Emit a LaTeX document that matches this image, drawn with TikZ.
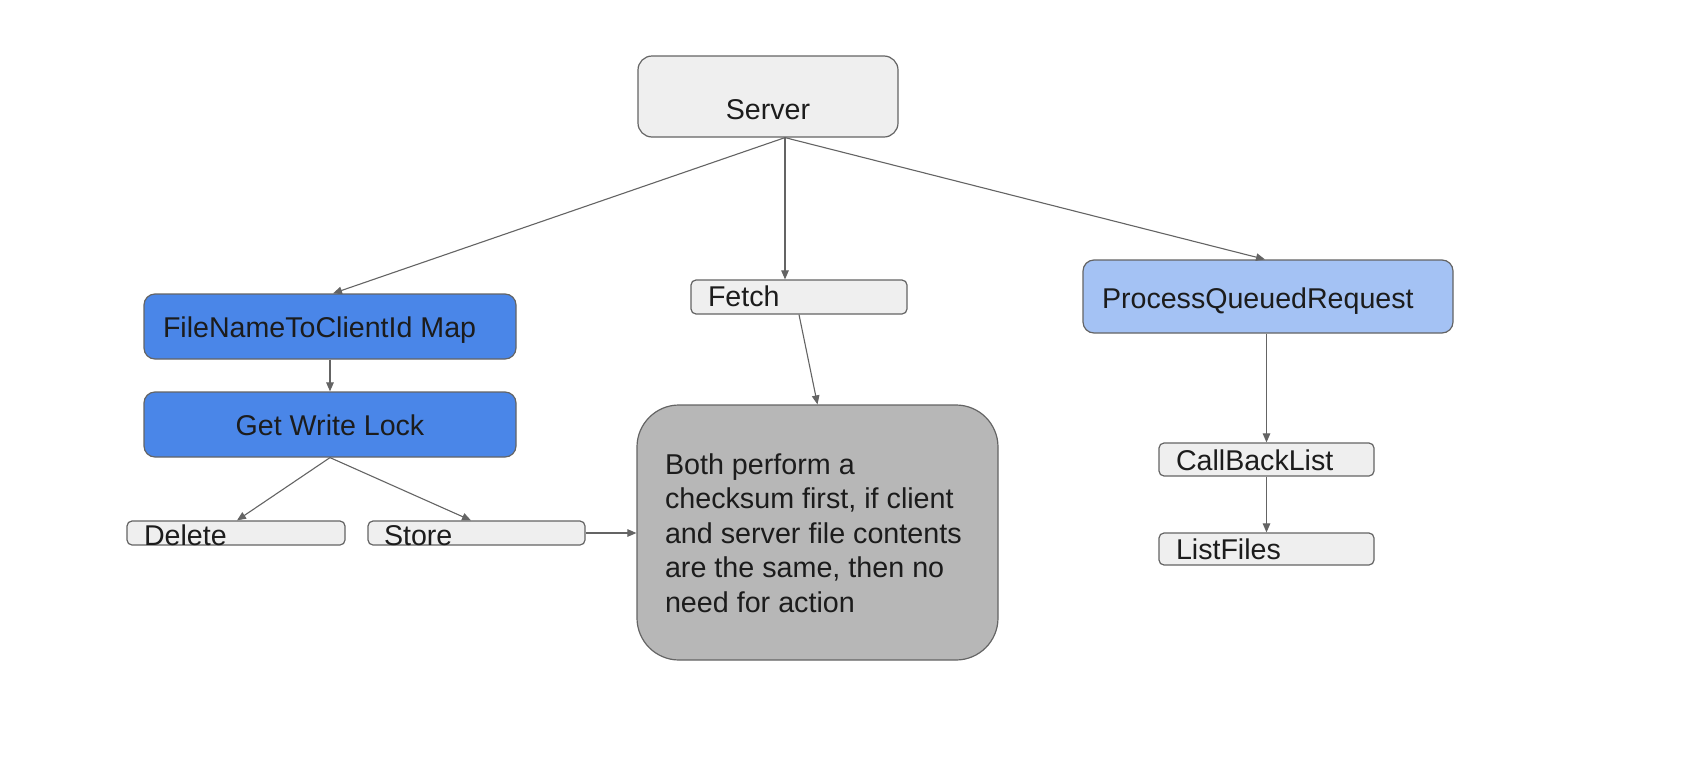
\documentclass[tikz,border=0pt]{standalone}
\usepackage{fontspec}
\setmainfont{Liberation Sans}
\usetikzlibrary{arrows.meta}
\definecolor{boxgray}{HTML}{EFEFEF}
\definecolor{edgegray}{HTML}{646464}
\definecolor{blueA}{HTML}{4A86E8}
\definecolor{blueB}{HTML}{A4C2F4}
\definecolor{bigfill}{HTML}{B7B7B7}
\definecolor{txt}{HTML}{1C1C1C}
\newcommand\boxlbl[4]{\raisebox{#2pt}{\makebox[#1pt][l]{\hspace*{#3pt}#4}}}
\newcommand\boxctr[3]{\raisebox{#2pt}{\makebox[#1pt][c]{#3}}}
\begin{document}
\begin{tikzpicture}[x=1pt,y=-1pt,
  box/.style={draw=edgegray, line width=1.2pt, inner sep=0pt, text height=0pt, text depth=0pt, text=txt, font=\fontsize{28.6}{34}\selectfont},
  graybox/.style={box, fill=boxgray},
  smallbox/.style={graybox, rounded corners=5pt},
  darkblue/.style={box, fill=blueA, rounded corners=11pt},
  lightblue/.style={box, fill=blueB, rounded corners=11pt},
  conn/.style={draw=edgegray, line width=1.1pt, -{Triangle[length=9pt,width=7.5pt]}}
]
\useasboundingbox[fill=white] (0,0) rectangle (1706,774);

% nodes
\node[graybox, rounded corners=14pt, minimum width=260pt, minimum height=81pt] (srv) at (768,96.5) {\boxctr{260}{-23}{Server}};

\node[darkblue, minimum width=372pt, minimum height=65pt] (fn) at (330,326.5) {\boxlbl{372}{-10.5}{19}{FileNameToClientId Map}};
\node[darkblue, minimum width=372pt, minimum height=65pt] (gwl) at (330,424.5) {\boxctr{372}{-10.5}{Get Write Lock}};

\node[smallbox, minimum width=218pt, minimum height=24pt] (del) at (236,533) {\boxlbl{218}{-12}{17}{Delete}};
\node[smallbox, minimum width=217pt, minimum height=24pt] (store) at (476.5,533) {\boxlbl{217}{-12}{16}{Store}};

\node[smallbox, minimum width=216pt, minimum height=34pt] (fetch) at (799,297) {\boxlbl{216}{-9.7}{17}{Fetch}};

\node[box, fill=bigfill, rounded corners=42pt, minimum width=361pt, minimum height=255pt] (check) at (817.5,532.5)
  {\raisebox{58.5pt}{\parbox[t]{305pt}{\fontsize{28.7}{34.5}\selectfont\raggedright
   Both perform a\\ checksum first, if client\\ and server file contents\\ are the same, then no\\ need for action}}};

\node[lightblue, minimum width=370pt, minimum height=73pt] (pqr) at (1268,296.5) {\boxlbl{370}{-12}{19}{ProcessQueuedRequest}};

\node[smallbox, minimum width=215pt, minimum height=33pt] (cbl) at (1266.5,459.5) {\boxlbl{215}{-11}{17}{CallBackList}};
\node[smallbox, minimum width=215pt, minimum height=32pt] (lf) at (1266.5,549) {\boxlbl{215}{-10.3}{17}{ListFiles}};

% connectors
\draw[conn] ([xshift=17pt]srv.south) -- ([xshift=3pt]fn.north);
\draw[conn] ([xshift=17pt]srv.south) -- ([xshift=-14pt]fetch.north);
\draw[conn] ([xshift=17pt]srv.south) -- ([xshift=-3pt]pqr.north);
\draw[conn] (fn.south) -- (gwl.north);
\draw[conn] (gwl.south) -- ([xshift=1pt]del.north);
\draw[conn] (gwl.south) -- ([xshift=-5.5pt]store.north);
\draw[conn] (store.east) -- (store.east -| check.west);
\draw[conn] (fetch.south) -- (check.north);
\draw[conn] (cbl.north |- pqr.south) -- (cbl.north);
\draw[conn] (cbl.south) -- (lf.north);
\end{tikzpicture}
\end{document}
